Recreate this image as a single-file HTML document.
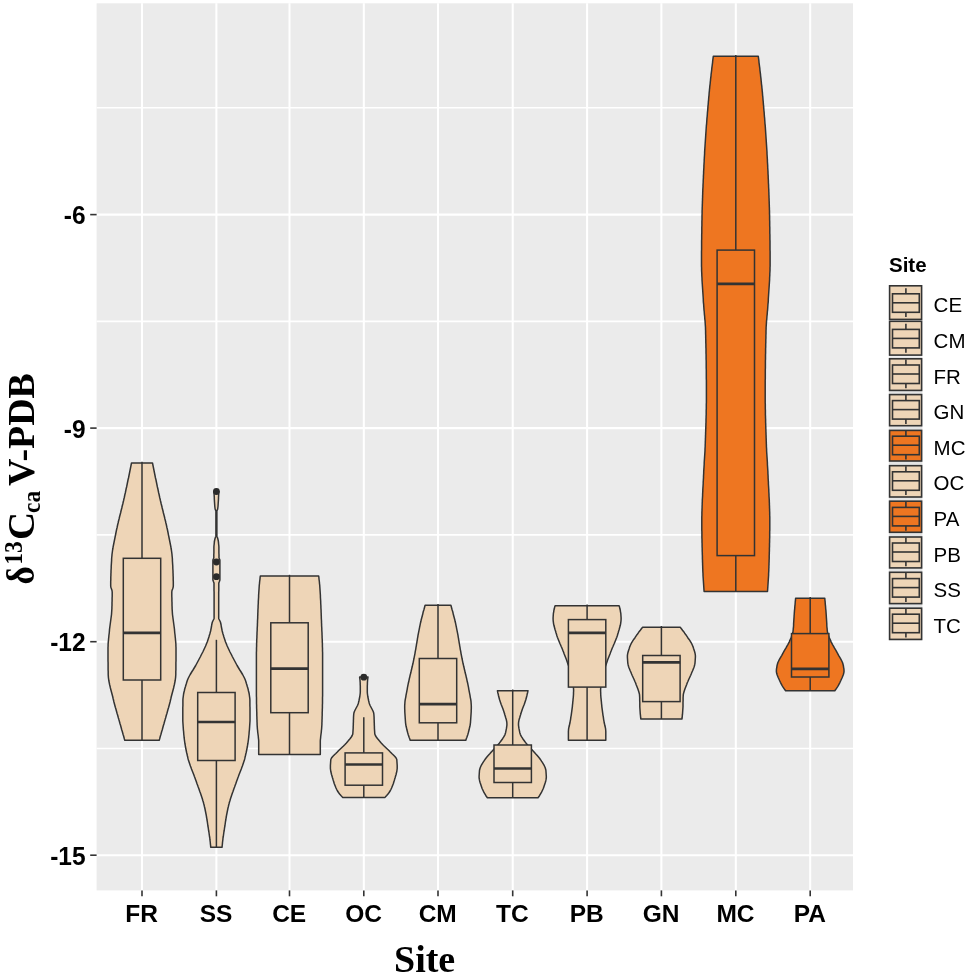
<!DOCTYPE html>
<html lang="en"><head><meta charset="utf-8"><title>Site violin plot</title>
<style>
html,body{margin:0;padding:0;background:#fff;}
body{width:968px;height:976px;overflow:hidden;}
svg{display:block;}
.tick{font-family:"Liberation Sans", Arial, sans-serif;font-weight:bold;font-size:24.5px;fill:#000;}
.leg{font-family:"Liberation Sans", Arial, sans-serif;font-size:20.5px;fill:#000;}
.legt{font-family:"Liberation Sans", Arial, sans-serif;font-weight:bold;font-size:20.5px;fill:#000;}
.ttl{font-family:"Liberation Serif", "Times New Roman", serif;font-weight:bold;fill:#000;}
</style></head><body>
<svg width="968" height="976" viewBox="0 0 968 976">
<rect x="0" y="0" width="968" height="976" fill="#ffffff"/>
<rect x="96.6" y="3.3" width="756.4" height="887.1" fill="#EBEBEB"/>

<g stroke="#ffffff" fill="none">
<line x1="96.6" x2="853.0" y1="107.8" y2="107.8" stroke-width="1.6"/>
<line x1="96.6" x2="853.0" y1="321.4" y2="321.4" stroke-width="1.6"/>
<line x1="96.6" x2="853.0" y1="534.9" y2="534.9" stroke-width="1.6"/>
<line x1="96.6" x2="853.0" y1="748.5" y2="748.5" stroke-width="1.6"/>
<line x1="96.6" x2="853.0" y1="214.6" y2="214.6" stroke-width="2.05"/>
<line x1="96.6" x2="853.0" y1="428.1" y2="428.1" stroke-width="2.05"/>
<line x1="96.6" x2="853.0" y1="641.7" y2="641.7" stroke-width="2.05"/>
<line x1="96.6" x2="853.0" y1="855.2" y2="855.2" stroke-width="2.05"/>
<line x1="142.0" x2="142.0" y1="3.3" y2="890.4" stroke-width="2.05"/>
<line x1="216.4" x2="216.4" y1="3.3" y2="890.4" stroke-width="2.05"/>
<line x1="289.5" x2="289.5" y1="3.3" y2="890.4" stroke-width="2.05"/>
<line x1="363.8" x2="363.8" y1="3.3" y2="890.4" stroke-width="2.05"/>
<line x1="438.0" x2="438.0" y1="3.3" y2="890.4" stroke-width="2.05"/>
<line x1="512.7" x2="512.7" y1="3.3" y2="890.4" stroke-width="2.05"/>
<line x1="587.1" x2="587.1" y1="3.3" y2="890.4" stroke-width="2.05"/>
<line x1="661.4" x2="661.4" y1="3.3" y2="890.4" stroke-width="2.05"/>
<line x1="735.8" x2="735.8" y1="3.3" y2="890.4" stroke-width="2.05"/>
<line x1="810.2" x2="810.2" y1="3.3" y2="890.4" stroke-width="2.05"/>
</g>
<g stroke="#333333" stroke-width="1.5" stroke-linejoin="round">
<path d="M131.5,463.0 L131.2,464.5 L130.9,466.0 L130.6,467.5 L130.3,469.0 L130.0,470.5 L129.7,472.0 L129.4,473.5 L129.1,475.0 L128.8,476.5 L128.5,478.0 L128.1,479.5 L127.8,481.0 L127.5,482.5 L127.2,484.0 L126.9,485.5 L126.6,487.0 L126.2,488.5 L125.9,490.0 L125.6,491.5 L125.3,493.0 L124.9,494.5 L124.6,496.0 L124.3,497.5 L123.9,499.0 L123.6,500.5 L123.2,502.0 L122.9,503.5 L122.5,505.0 L122.1,506.5 L121.8,508.0 L121.4,509.5 L121.0,511.0 L120.7,512.5 L120.3,514.0 L119.9,515.5 L119.5,517.0 L119.2,518.5 L118.8,520.0 L118.4,521.5 L118.1,523.0 L117.7,524.5 L117.4,526.0 L117.1,527.5 L116.7,529.0 L116.4,530.5 L116.1,532.0 L115.8,533.5 L115.5,535.0 L115.2,536.5 L114.9,538.0 L114.6,539.5 L114.3,541.0 L114.0,542.5 L113.7,544.0 L113.4,545.5 L113.1,547.0 L112.9,548.5 L112.6,550.0 L112.4,551.5 L112.2,553.0 L112.0,554.5 L111.9,556.0 L111.7,557.5 L111.7,558.0 L111.6,559.0 L111.6,560.5 L111.5,562.0 L111.4,563.5 L111.3,565.0 L111.2,566.5 L111.2,568.0 L111.1,569.5 L111.0,571.0 L111.0,572.5 L110.9,574.0 L110.9,575.5 L110.8,577.0 L110.8,578.5 L110.8,580.0 L110.7,581.5 L110.7,583.0 L110.7,584.5 L110.7,586.0 L110.9,587.5 L111.5,589.0 L112.0,590.5 L112.2,592.0 L112.2,593.5 L112.2,595.0 L112.2,596.5 L112.1,598.0 L112.1,599.5 L112.1,601.0 L112.0,602.5 L112.0,604.0 L112.0,605.5 L111.9,607.0 L111.9,608.5 L111.8,610.0 L111.7,611.5 L111.6,613.0 L111.5,614.5 L111.3,616.0 L111.1,617.5 L110.9,619.0 L110.7,620.5 L110.5,622.0 L110.3,623.5 L110.1,625.0 L109.9,626.5 L109.7,628.0 L109.5,629.5 L109.5,630.0 L109.4,631.0 L109.3,632.5 L109.1,634.0 L108.9,635.5 L108.8,637.0 L108.6,638.5 L108.5,640.0 L108.3,641.5 L108.2,643.0 L108.1,644.5 L108.1,646.0 L108.0,647.5 L108.0,649.0 L108.0,650.5 L108.0,652.0 L108.0,653.5 L108.0,655.0 L108.0,656.5 L108.0,658.0 L108.0,659.5 L108.0,661.0 L108.1,662.5 L108.1,664.0 L108.1,665.5 L108.1,667.0 L108.1,668.5 L108.1,670.0 L108.2,671.5 L108.2,673.0 L108.2,674.0 L108.2,674.5 L108.3,676.0 L108.4,677.5 L108.6,679.0 L108.8,680.5 L109.1,682.0 L109.4,683.5 L109.7,685.0 L110.1,686.5 L110.4,688.0 L110.8,689.5 L111.2,691.0 L111.6,692.5 L112.0,694.0 L112.4,695.5 L112.8,697.0 L113.0,698.0 L113.1,698.5 L113.5,700.0 L113.8,701.5 L114.2,703.0 L114.6,704.5 L115.0,706.0 L115.4,707.5 L115.9,709.0 L116.3,710.5 L116.7,712.0 L117.1,713.5 L117.6,715.0 L118.0,716.5 L118.4,718.0 L118.9,719.5 L119.0,720.0 L119.3,721.0 L119.7,722.5 L120.1,724.0 L120.6,725.5 L121.0,727.0 L121.4,728.5 L121.8,730.0 L122.3,731.5 L122.7,733.0 L123.1,734.5 L123.6,736.0 L124.0,737.5 L124.4,739.0 L124.8,740.2 L159.2,740.2 L159.6,739.0 L160.0,737.5 L160.4,736.0 L160.9,734.5 L161.3,733.0 L161.7,731.5 L162.2,730.0 L162.6,728.5 L163.0,727.0 L163.4,725.5 L163.9,724.0 L164.3,722.5 L164.7,721.0 L165.0,720.0 L165.1,719.5 L165.6,718.0 L166.0,716.5 L166.4,715.0 L166.9,713.5 L167.3,712.0 L167.7,710.5 L168.1,709.0 L168.6,707.5 L169.0,706.0 L169.4,704.5 L169.8,703.0 L170.2,701.5 L170.5,700.0 L170.9,698.5 L171.0,698.0 L171.2,697.0 L171.6,695.5 L172.0,694.0 L172.4,692.5 L172.8,691.0 L173.2,689.5 L173.6,688.0 L173.9,686.5 L174.3,685.0 L174.6,683.5 L174.9,682.0 L175.2,680.5 L175.4,679.0 L175.6,677.5 L175.7,676.0 L175.8,674.5 L175.8,674.0 L175.8,673.0 L175.8,671.5 L175.9,670.0 L175.9,668.5 L175.9,667.0 L175.9,665.5 L175.9,664.0 L175.9,662.5 L176.0,661.0 L176.0,659.5 L176.0,658.0 L176.0,656.5 L176.0,655.0 L176.0,653.5 L176.0,652.0 L176.0,650.5 L176.0,649.0 L176.0,647.5 L175.9,646.0 L175.9,644.5 L175.8,643.0 L175.7,641.5 L175.5,640.0 L175.4,638.5 L175.2,637.0 L175.1,635.5 L174.9,634.0 L174.7,632.5 L174.6,631.0 L174.5,630.0 L174.5,629.5 L174.3,628.0 L174.1,626.5 L173.9,625.0 L173.7,623.5 L173.5,622.0 L173.3,620.5 L173.1,619.0 L172.9,617.5 L172.7,616.0 L172.5,614.5 L172.4,613.0 L172.3,611.5 L172.2,610.0 L172.1,608.5 L172.1,607.0 L172.0,605.5 L172.0,604.0 L172.0,602.5 L171.9,601.0 L171.9,599.5 L171.9,598.0 L171.8,596.5 L171.8,595.0 L171.8,593.5 L171.8,592.0 L172.0,590.5 L172.6,589.0 L173.1,587.5 L173.3,586.0 L173.3,584.5 L173.3,583.0 L173.3,581.5 L173.2,580.0 L173.2,578.5 L173.2,577.0 L173.1,575.5 L173.1,574.0 L173.0,572.5 L173.0,571.0 L172.9,569.5 L172.8,568.0 L172.8,566.5 L172.7,565.0 L172.6,563.5 L172.5,562.0 L172.4,560.5 L172.4,559.0 L172.3,558.0 L172.3,557.5 L172.1,556.0 L172.0,554.5 L171.8,553.0 L171.6,551.5 L171.4,550.0 L171.1,548.5 L170.9,547.0 L170.6,545.5 L170.3,544.0 L170.0,542.5 L169.7,541.0 L169.4,539.5 L169.1,538.0 L168.8,536.5 L168.5,535.0 L168.2,533.5 L167.9,532.0 L167.6,530.5 L167.3,529.0 L166.9,527.5 L166.6,526.0 L166.3,524.5 L165.9,523.0 L165.6,521.5 L165.2,520.0 L164.8,518.5 L164.5,517.0 L164.1,515.5 L163.7,514.0 L163.3,512.5 L163.0,511.0 L162.6,509.5 L162.2,508.0 L161.9,506.5 L161.5,505.0 L161.1,503.5 L160.8,502.0 L160.4,500.5 L160.1,499.0 L159.7,497.5 L159.4,496.0 L159.1,494.5 L158.7,493.0 L158.4,491.5 L158.1,490.0 L157.8,488.5 L157.4,487.0 L157.1,485.5 L156.8,484.0 L156.5,482.5 L156.2,481.0 L155.9,479.5 L155.5,478.0 L155.2,476.5 L154.9,475.0 L154.6,473.5 L154.3,472.0 L154.0,470.5 L153.7,469.0 L153.4,467.5 L153.1,466.0 L152.8,464.5 L152.5,463.0Z" fill="#EED5B7"/>
<path d="M214.0,491.5 L214.1,493.0 L214.1,494.5 L214.2,496.0 L214.3,497.5 L214.3,499.0 L214.4,500.0 L214.4,500.5 L214.5,502.0 L214.6,503.5 L214.7,505.0 L214.8,506.5 L215.0,508.0 L215.1,509.0 L215.3,509.5 L215.9,511.0 L215.9,512.5 L215.9,514.0 L215.9,515.5 L215.9,517.0 L215.9,518.5 L215.9,520.0 L215.9,521.5 L215.9,523.0 L215.9,524.5 L215.9,526.0 L215.9,527.5 L215.9,529.0 L215.9,530.5 L215.9,532.0 L215.9,533.5 L215.9,535.0 L215.9,536.0 L215.8,536.5 L215.2,538.0 L214.8,539.5 L214.5,541.0 L214.4,542.0 L214.3,542.5 L214.2,544.0 L214.0,545.5 L213.9,547.0 L213.9,548.0 L213.9,548.5 L213.9,550.0 L213.9,551.5 L213.9,553.0 L213.8,554.5 L213.8,556.0 L213.8,557.5 L213.8,558.0 L213.3,559.0 L212.9,560.0 L212.9,560.5 L212.9,562.0 L212.9,563.5 L212.9,565.0 L212.9,566.5 L212.9,568.0 L212.9,569.5 L212.9,571.0 L212.9,572.5 L212.9,574.0 L212.9,575.5 L212.9,577.0 L212.9,578.5 L212.9,580.0 L213.4,581.5 L214.0,583.0 L214.0,584.5 L214.0,586.0 L214.0,587.5 L214.0,589.0 L214.0,590.5 L214.1,592.0 L214.1,593.5 L214.1,595.0 L214.1,596.5 L214.1,598.0 L214.1,599.5 L214.1,601.0 L214.1,602.5 L214.1,604.0 L214.1,605.5 L214.1,607.0 L214.1,608.5 L214.1,610.0 L214.1,611.5 L214.1,613.0 L214.1,614.5 L214.1,616.0 L214.1,617.5 L214.1,618.0 L213.9,619.0 L213.1,620.5 L212.4,622.0 L212.0,623.5 L211.7,625.0 L211.5,626.5 L211.2,628.0 L210.9,629.5 L210.8,630.0 L210.6,631.0 L210.2,632.5 L209.8,634.0 L209.3,635.5 L208.9,637.0 L208.4,638.5 L207.9,640.0 L207.4,641.5 L207.2,642.0 L206.8,643.0 L206.2,644.5 L205.6,646.0 L204.9,647.5 L204.2,649.0 L203.5,650.5 L202.8,652.0 L202.0,653.5 L201.2,655.0 L200.5,656.5 L199.7,658.0 L198.9,659.5 L198.1,661.0 L197.3,662.5 L196.5,664.0 L195.7,665.5 L194.8,667.0 L193.9,668.5 L193.0,670.0 L192.0,671.5 L191.1,673.0 L190.2,674.5 L189.4,676.0 L188.6,677.5 L187.9,679.0 L187.3,680.5 L187.0,681.4 L186.8,682.0 L186.4,683.5 L185.9,685.0 L185.5,686.5 L185.0,688.0 L184.6,689.5 L184.3,691.0 L183.9,692.5 L183.6,694.0 L183.4,695.5 L183.2,697.0 L183.0,698.5 L182.9,700.0 L182.9,701.0 L182.9,701.5 L182.9,703.0 L182.9,704.5 L182.9,706.0 L182.8,707.5 L182.8,709.0 L182.8,710.5 L182.8,712.0 L182.8,713.5 L182.8,715.0 L182.8,716.5 L182.8,718.0 L182.8,719.5 L182.8,721.0 L182.9,722.5 L183.0,724.0 L183.1,725.5 L183.2,727.0 L183.3,728.5 L183.4,730.0 L183.6,731.5 L183.7,733.0 L183.8,734.5 L184.0,736.0 L184.1,737.5 L184.2,738.0 L184.3,739.0 L184.5,740.5 L184.7,742.0 L184.9,743.5 L185.2,745.0 L185.4,746.5 L185.7,748.0 L186.0,749.5 L186.3,751.0 L186.6,752.5 L187.0,754.0 L187.3,755.5 L187.7,757.0 L187.8,757.6 L188.0,758.5 L188.4,760.0 L188.9,761.5 L189.4,763.0 L189.9,764.5 L190.4,766.0 L191.0,767.5 L191.5,769.0 L192.1,770.5 L192.7,772.0 L193.3,773.5 L193.9,775.0 L194.4,776.5 L195.0,778.0 L195.5,779.5 L195.6,779.7 L196.1,781.0 L196.6,782.5 L197.1,784.0 L197.7,785.5 L198.2,787.0 L198.8,788.5 L199.3,790.0 L199.8,791.5 L200.4,793.0 L200.9,794.5 L201.4,796.0 L201.9,797.5 L202.4,799.0 L202.8,800.5 L203.3,802.0 L203.7,803.5 L203.8,804.0 L204.1,805.0 L204.4,806.5 L204.8,808.0 L205.1,809.5 L205.4,811.0 L205.7,812.5 L205.8,813.0 L206.0,814.0 L206.3,815.5 L206.5,817.0 L206.8,818.5 L207.0,820.0 L207.3,821.5 L207.5,823.0 L207.7,824.5 L207.9,826.0 L208.2,827.5 L208.4,829.0 L208.6,830.5 L208.9,832.0 L209.1,833.5 L209.3,835.0 L209.5,836.5 L209.8,838.0 L209.9,839.5 L210.0,840.0 L210.1,841.0 L210.3,842.5 L210.4,844.0 L210.6,845.5 L210.7,847.0 L210.7,847.3 L222.1,847.3 L222.1,847.0 L222.2,845.5 L222.4,844.0 L222.5,842.5 L222.7,841.0 L222.8,840.0 L222.9,839.5 L223.0,838.0 L223.3,836.5 L223.5,835.0 L223.7,833.5 L223.9,832.0 L224.2,830.5 L224.4,829.0 L224.6,827.5 L224.9,826.0 L225.1,824.5 L225.3,823.0 L225.5,821.5 L225.8,820.0 L226.0,818.5 L226.3,817.0 L226.5,815.5 L226.8,814.0 L227.0,813.0 L227.1,812.5 L227.4,811.0 L227.7,809.5 L228.0,808.0 L228.4,806.5 L228.7,805.0 L229.0,804.0 L229.1,803.5 L229.5,802.0 L230.0,800.5 L230.4,799.0 L230.9,797.5 L231.4,796.0 L231.9,794.5 L232.4,793.0 L233.0,791.5 L233.5,790.0 L234.0,788.5 L234.6,787.0 L235.1,785.5 L235.7,784.0 L236.2,782.5 L236.7,781.0 L237.2,779.7 L237.3,779.5 L237.8,778.0 L238.4,776.5 L238.9,775.0 L239.5,773.5 L240.1,772.0 L240.7,770.5 L241.3,769.0 L241.8,767.5 L242.4,766.0 L242.9,764.5 L243.4,763.0 L243.9,761.5 L244.4,760.0 L244.8,758.5 L245.0,757.6 L245.1,757.0 L245.5,755.5 L245.8,754.0 L246.2,752.5 L246.5,751.0 L246.8,749.5 L247.1,748.0 L247.4,746.5 L247.6,745.0 L247.9,743.5 L248.1,742.0 L248.3,740.5 L248.5,739.0 L248.6,738.0 L248.7,737.5 L248.8,736.0 L249.0,734.5 L249.1,733.0 L249.2,731.5 L249.4,730.0 L249.5,728.5 L249.6,727.0 L249.7,725.5 L249.8,724.0 L249.9,722.5 L250.0,721.0 L250.0,719.5 L250.0,718.0 L250.0,716.5 L250.0,715.0 L250.0,713.5 L250.0,712.0 L250.0,710.5 L250.0,709.0 L250.0,707.5 L249.9,706.0 L249.9,704.5 L249.9,703.0 L249.9,701.5 L249.9,701.0 L249.9,700.0 L249.8,698.5 L249.6,697.0 L249.4,695.5 L249.2,694.0 L248.9,692.5 L248.5,691.0 L248.2,689.5 L247.8,688.0 L247.3,686.5 L246.9,685.0 L246.4,683.5 L246.0,682.0 L245.8,681.4 L245.5,680.5 L244.9,679.0 L244.2,677.5 L243.4,676.0 L242.6,674.5 L241.7,673.0 L240.8,671.5 L239.8,670.0 L238.9,668.5 L238.0,667.0 L237.1,665.5 L236.3,664.0 L235.5,662.5 L234.7,661.0 L233.9,659.5 L233.1,658.0 L232.3,656.5 L231.6,655.0 L230.8,653.5 L230.0,652.0 L229.3,650.5 L228.6,649.0 L227.9,647.5 L227.2,646.0 L226.6,644.5 L226.0,643.0 L225.6,642.0 L225.4,641.5 L224.9,640.0 L224.4,638.5 L223.9,637.0 L223.5,635.5 L223.0,634.0 L222.6,632.5 L222.2,631.0 L222.0,630.0 L221.9,629.5 L221.6,628.0 L221.3,626.5 L221.1,625.0 L220.8,623.5 L220.4,622.0 L219.7,620.5 L218.9,619.0 L218.7,618.0 L218.7,617.5 L218.7,616.0 L218.7,614.5 L218.7,613.0 L218.7,611.5 L218.7,610.0 L218.7,608.5 L218.7,607.0 L218.7,605.5 L218.7,604.0 L218.7,602.5 L218.7,601.0 L218.7,599.5 L218.7,598.0 L218.7,596.5 L218.7,595.0 L218.7,593.5 L218.7,592.0 L218.8,590.5 L218.8,589.0 L218.8,587.5 L218.8,586.0 L218.8,584.5 L218.8,583.0 L219.4,581.5 L219.9,580.0 L219.9,578.5 L219.9,577.0 L219.9,575.5 L219.9,574.0 L219.9,572.5 L219.9,571.0 L219.9,569.5 L219.9,568.0 L219.9,566.5 L219.9,565.0 L219.9,563.5 L219.9,562.0 L219.9,560.5 L219.9,560.0 L219.5,559.0 L219.0,558.0 L219.0,557.5 L219.0,556.0 L219.0,554.5 L218.9,553.0 L218.9,551.5 L218.9,550.0 L218.9,548.5 L218.9,548.0 L218.9,547.0 L218.8,545.5 L218.6,544.0 L218.5,542.5 L218.4,542.0 L218.3,541.0 L218.0,539.5 L217.6,538.0 L217.0,536.5 L216.9,536.0 L216.9,535.0 L216.9,533.5 L216.9,532.0 L216.9,530.5 L216.9,529.0 L216.9,527.5 L216.9,526.0 L216.9,524.5 L216.9,523.0 L216.9,521.5 L216.9,520.0 L216.9,518.5 L216.9,517.0 L216.9,515.5 L216.9,514.0 L216.9,512.5 L216.9,511.0 L217.5,509.5 L217.7,509.0 L217.8,508.0 L218.0,506.5 L218.1,505.0 L218.2,503.5 L218.3,502.0 L218.4,500.5 L218.4,500.0 L218.5,499.0 L218.5,497.5 L218.6,496.0 L218.7,494.5 L218.7,493.0 L218.8,491.5Z" fill="#EED5B7"/>
<path d="M260.3,576.0 L260.1,577.5 L260.0,579.0 L259.8,580.5 L259.6,582.0 L259.5,583.5 L259.3,585.0 L259.2,586.5 L259.1,588.0 L259.0,589.5 L258.9,591.0 L258.8,592.5 L258.7,594.0 L258.6,595.5 L258.6,597.0 L258.5,598.5 L258.4,600.0 L258.3,601.5 L258.3,603.0 L258.2,604.5 L258.1,606.0 L258.1,607.5 L258.0,609.0 L257.9,610.5 L257.9,612.0 L257.8,613.5 L257.8,615.0 L257.7,616.5 L257.7,618.0 L257.6,619.5 L257.5,621.0 L257.5,622.0 L257.5,622.5 L257.4,624.0 L257.4,625.5 L257.3,627.0 L257.2,628.5 L257.2,630.0 L257.1,631.5 L257.0,633.0 L257.0,634.5 L256.9,636.0 L256.9,637.5 L256.8,639.0 L256.7,640.5 L256.7,642.0 L256.6,643.5 L256.6,645.0 L256.6,646.5 L256.5,648.0 L256.5,649.5 L256.5,651.0 L256.4,652.5 L256.4,654.0 L256.4,655.5 L256.4,657.0 L256.4,658.5 L256.4,660.0 L256.4,661.5 L256.4,663.0 L256.4,664.5 L256.4,666.0 L256.4,667.5 L256.4,669.0 L256.4,670.5 L256.4,672.0 L256.4,673.5 L256.4,675.0 L256.4,676.5 L256.4,678.0 L256.4,679.5 L256.4,681.0 L256.4,682.5 L256.4,684.0 L256.4,685.5 L256.4,687.0 L256.4,688.5 L256.4,689.0 L256.4,690.0 L256.4,691.5 L256.4,693.0 L256.4,694.5 L256.4,696.0 L256.5,697.5 L256.5,699.0 L256.5,700.5 L256.5,702.0 L256.5,703.5 L256.6,705.0 L256.6,706.5 L256.6,708.0 L256.7,709.5 L256.7,711.0 L256.8,712.5 L256.8,714.0 L256.8,715.5 L256.9,717.0 L256.9,718.5 L257.0,720.0 L257.0,721.5 L257.1,723.0 L257.1,724.5 L257.2,726.0 L257.3,727.5 L257.4,729.0 L257.6,730.5 L257.7,732.0 L257.9,733.5 L258.1,735.0 L258.3,736.5 L258.4,738.0 L258.6,739.5 L258.7,741.0 L258.7,742.5 L258.7,743.0 L258.7,744.0 L258.7,745.5 L258.7,747.0 L258.7,748.5 L258.7,750.0 L258.7,751.5 L258.7,753.0 L258.7,754.5 L258.7,754.6 L320.3,754.6 L320.3,754.5 L320.3,753.0 L320.3,751.5 L320.3,750.0 L320.3,748.5 L320.3,747.0 L320.3,745.5 L320.3,744.0 L320.3,743.0 L320.3,742.5 L320.3,741.0 L320.4,739.5 L320.6,738.0 L320.7,736.5 L320.9,735.0 L321.1,733.5 L321.3,732.0 L321.4,730.5 L321.6,729.0 L321.7,727.5 L321.8,726.0 L321.9,724.5 L321.9,723.0 L322.0,721.5 L322.0,720.0 L322.1,718.5 L322.1,717.0 L322.2,715.5 L322.2,714.0 L322.2,712.5 L322.3,711.0 L322.3,709.5 L322.4,708.0 L322.4,706.5 L322.4,705.0 L322.5,703.5 L322.5,702.0 L322.5,700.5 L322.5,699.0 L322.5,697.5 L322.6,696.0 L322.6,694.5 L322.6,693.0 L322.6,691.5 L322.6,690.0 L322.6,689.0 L322.6,688.5 L322.6,687.0 L322.6,685.5 L322.6,684.0 L322.6,682.5 L322.6,681.0 L322.6,679.5 L322.6,678.0 L322.6,676.5 L322.6,675.0 L322.6,673.5 L322.6,672.0 L322.6,670.5 L322.6,669.0 L322.6,667.5 L322.6,666.0 L322.6,664.5 L322.6,663.0 L322.6,661.5 L322.6,660.0 L322.6,658.5 L322.6,657.0 L322.6,655.5 L322.6,654.0 L322.6,652.5 L322.5,651.0 L322.5,649.5 L322.5,648.0 L322.4,646.5 L322.4,645.0 L322.4,643.5 L322.3,642.0 L322.3,640.5 L322.2,639.0 L322.1,637.5 L322.1,636.0 L322.0,634.5 L322.0,633.0 L321.9,631.5 L321.8,630.0 L321.8,628.5 L321.7,627.0 L321.6,625.5 L321.6,624.0 L321.5,622.5 L321.5,622.0 L321.5,621.0 L321.4,619.5 L321.3,618.0 L321.3,616.5 L321.2,615.0 L321.2,613.5 L321.1,612.0 L321.1,610.5 L321.0,609.0 L320.9,607.5 L320.9,606.0 L320.8,604.5 L320.7,603.0 L320.7,601.5 L320.6,600.0 L320.5,598.5 L320.4,597.0 L320.4,595.5 L320.3,594.0 L320.2,592.5 L320.1,591.0 L320.0,589.5 L319.9,588.0 L319.8,586.5 L319.7,585.0 L319.5,583.5 L319.4,582.0 L319.2,580.5 L319.0,579.0 L318.9,577.5 L318.7,576.0Z" fill="#EED5B7"/>
<path d="M359.6,677.0 L359.8,678.5 L360.0,680.0 L360.1,681.5 L360.2,683.0 L360.2,684.5 L360.3,686.0 L360.3,687.5 L360.3,689.0 L360.3,690.5 L360.3,690.7 L360.3,692.0 L360.2,693.5 L360.0,695.0 L359.8,696.5 L359.5,698.0 L359.2,699.5 L358.9,701.0 L358.5,702.5 L358.4,703.0 L358.1,704.0 L357.5,705.5 L356.7,707.0 L355.9,708.5 L355.1,710.0 L354.4,711.5 L353.9,713.0 L353.8,713.8 L353.7,714.5 L353.6,716.0 L353.5,717.5 L353.5,719.0 L353.4,720.5 L353.4,722.0 L353.3,723.5 L353.3,725.0 L353.2,726.5 L353.2,728.0 L353.1,729.5 L353.0,731.0 L352.9,732.5 L352.8,733.7 L352.8,734.0 L352.2,735.5 L351.3,737.0 L350.2,738.5 L348.9,740.0 L347.8,741.4 L347.7,741.5 L346.4,743.0 L345.0,744.5 L343.5,746.0 L341.9,747.5 L340.3,749.0 L338.7,750.5 L337.3,752.0 L335.8,753.5 L334.2,755.0 L332.7,756.5 L331.5,758.0 L330.8,759.5 L330.8,759.8 L330.7,761.0 L330.6,762.5 L330.5,764.0 L330.4,765.5 L330.4,767.0 L330.4,767.5 L330.4,768.5 L330.6,770.0 L330.8,771.5 L331.2,773.0 L331.5,774.5 L332.0,776.0 L332.4,777.5 L332.9,779.0 L333.1,779.8 L333.3,780.5 L333.8,782.0 L334.2,783.5 L334.8,785.0 L335.4,786.5 L336.0,788.0 L336.7,789.5 L337.3,790.6 L337.5,791.0 L338.5,792.5 L339.6,794.0 L340.9,795.5 L342.3,797.0 L342.8,797.5 L384.8,797.5 L385.3,797.0 L386.7,795.5 L388.0,794.0 L389.1,792.5 L390.1,791.0 L390.3,790.6 L390.9,789.5 L391.6,788.0 L392.2,786.5 L392.8,785.0 L393.4,783.5 L393.8,782.0 L394.3,780.5 L394.5,779.8 L394.7,779.0 L395.2,777.5 L395.6,776.0 L396.1,774.5 L396.4,773.0 L396.8,771.5 L397.0,770.0 L397.2,768.5 L397.2,767.5 L397.2,767.0 L397.2,765.5 L397.1,764.0 L397.0,762.5 L396.9,761.0 L396.8,759.8 L396.8,759.5 L396.1,758.0 L394.9,756.5 L393.4,755.0 L391.8,753.5 L390.3,752.0 L388.9,750.5 L387.3,749.0 L385.7,747.5 L384.1,746.0 L382.6,744.5 L381.2,743.0 L379.9,741.5 L379.8,741.4 L378.7,740.0 L377.4,738.5 L376.3,737.0 L375.4,735.5 L374.8,734.0 L374.8,733.7 L374.7,732.5 L374.6,731.0 L374.5,729.5 L374.4,728.0 L374.4,726.5 L374.3,725.0 L374.3,723.5 L374.2,722.0 L374.2,720.5 L374.1,719.0 L374.1,717.5 L374.0,716.0 L373.9,714.5 L373.8,713.8 L373.7,713.0 L373.2,711.5 L372.5,710.0 L371.7,708.5 L370.9,707.0 L370.1,705.5 L369.5,704.0 L369.2,703.0 L369.1,702.5 L368.7,701.0 L368.4,699.5 L368.1,698.0 L367.8,696.5 L367.6,695.0 L367.4,693.5 L367.3,692.0 L367.3,690.7 L367.3,690.5 L367.3,689.0 L367.3,687.5 L367.3,686.0 L367.4,684.5 L367.4,683.0 L367.5,681.5 L367.6,680.0 L367.8,678.5 L368.0,677.0Z" fill="#EED5B7"/>
<path d="M425.1,605.3 L424.7,606.8 L424.3,608.3 L423.9,609.8 L423.4,611.3 L423.0,612.8 L422.7,614.3 L422.3,615.8 L421.9,617.3 L421.5,618.8 L421.1,620.3 L420.8,621.8 L420.4,623.3 L420.1,624.8 L419.8,626.3 L419.7,626.7 L419.5,627.8 L419.2,629.3 L418.9,630.8 L418.6,632.3 L418.3,633.8 L418.0,635.3 L417.8,636.8 L417.5,638.3 L417.3,639.8 L417.0,641.3 L416.8,642.8 L416.5,644.3 L416.3,645.8 L416.0,647.3 L415.8,648.8 L415.5,650.3 L415.2,651.8 L415.0,653.3 L414.7,654.8 L414.4,656.3 L414.1,657.8 L414.0,658.5 L413.8,659.3 L413.5,660.8 L413.2,662.3 L412.9,663.8 L412.5,665.3 L412.2,666.8 L411.8,668.3 L411.5,669.8 L411.1,671.3 L410.8,672.8 L410.4,674.3 L410.0,675.8 L409.7,677.3 L409.3,678.8 L409.0,680.3 L408.7,681.8 L408.3,683.3 L408.0,684.8 L407.7,686.3 L407.4,687.8 L407.2,689.3 L407.0,690.2 L406.9,690.8 L406.6,692.3 L406.3,693.8 L406.0,695.3 L405.8,696.8 L405.5,698.3 L405.2,699.8 L405.0,701.3 L404.9,702.8 L404.8,704.3 L404.7,705.8 L404.7,706.1 L404.7,707.3 L404.7,708.8 L404.8,710.3 L404.8,711.8 L404.9,713.3 L405.0,714.8 L405.1,716.3 L405.2,717.8 L405.3,719.3 L405.4,720.8 L405.5,722.0 L405.5,722.3 L405.7,723.8 L405.9,725.3 L406.2,726.8 L406.6,728.3 L406.9,729.8 L407.3,731.3 L407.7,732.8 L407.8,733.1 L408.1,734.3 L408.6,735.8 L409.1,737.3 L409.7,738.8 L410.2,740.2 L465.8,740.2 L466.3,738.8 L466.9,737.3 L467.4,735.8 L467.9,734.3 L468.2,733.1 L468.3,732.8 L468.7,731.3 L469.1,729.8 L469.4,728.3 L469.8,726.8 L470.1,725.3 L470.3,723.8 L470.5,722.3 L470.5,722.0 L470.6,720.8 L470.7,719.3 L470.8,717.8 L470.9,716.3 L471.0,714.8 L471.1,713.3 L471.2,711.8 L471.2,710.3 L471.3,708.8 L471.3,707.3 L471.3,706.1 L471.3,705.8 L471.2,704.3 L471.1,702.8 L471.0,701.3 L470.8,699.8 L470.5,698.3 L470.2,696.8 L470.0,695.3 L469.7,693.8 L469.4,692.3 L469.1,690.8 L469.0,690.2 L468.8,689.3 L468.6,687.8 L468.3,686.3 L468.0,684.8 L467.7,683.3 L467.3,681.8 L467.0,680.3 L466.7,678.8 L466.3,677.3 L466.0,675.8 L465.6,674.3 L465.2,672.8 L464.9,671.3 L464.5,669.8 L464.2,668.3 L463.8,666.8 L463.5,665.3 L463.1,663.8 L462.8,662.3 L462.5,660.8 L462.2,659.3 L462.0,658.5 L461.9,657.8 L461.6,656.3 L461.3,654.8 L461.0,653.3 L460.8,651.8 L460.5,650.3 L460.2,648.8 L460.0,647.3 L459.7,645.8 L459.5,644.3 L459.2,642.8 L459.0,641.3 L458.7,639.8 L458.5,638.3 L458.2,636.8 L458.0,635.3 L457.7,633.8 L457.4,632.3 L457.1,630.8 L456.8,629.3 L456.5,627.8 L456.3,626.7 L456.2,626.3 L455.9,624.8 L455.6,623.3 L455.2,621.8 L454.9,620.3 L454.5,618.8 L454.1,617.3 L453.7,615.8 L453.3,614.3 L453.0,612.8 L452.6,611.3 L452.1,609.8 L451.7,608.3 L451.3,606.8 L450.9,605.3Z" fill="#EED5B7"/>
<path d="M497.4,690.7 L497.7,692.2 L498.1,693.7 L498.4,695.2 L498.8,696.7 L499.2,698.2 L499.6,699.7 L499.7,700.0 L500.1,701.2 L500.6,702.7 L501.1,704.2 L501.7,705.7 L502.3,707.2 L502.9,708.7 L503.4,710.2 L503.9,711.7 L504.4,713.2 L504.4,713.3 L504.8,714.7 L505.3,716.2 L505.7,717.7 L506.2,719.2 L506.5,720.7 L506.8,722.2 L506.9,723.7 L506.9,724.0 L506.9,725.2 L506.7,726.7 L506.5,728.2 L506.2,729.7 L505.9,731.2 L505.6,732.7 L505.4,733.3 L505.1,734.2 L504.5,735.7 L503.6,737.2 L502.6,738.7 L501.5,740.2 L500.4,741.7 L499.7,742.6 L499.3,743.2 L498.0,744.7 L496.7,746.2 L495.3,747.7 L493.9,749.2 L492.5,750.7 L491.4,751.9 L491.1,752.2 L489.8,753.7 L488.4,755.2 L487.1,756.7 L485.9,758.2 L484.8,759.7 L484.7,759.9 L483.9,761.2 L482.9,762.7 L482.0,764.2 L481.1,765.7 L480.4,767.2 L479.9,768.7 L479.5,770.2 L479.5,770.5 L479.4,771.7 L479.3,773.2 L479.2,774.7 L479.1,776.2 L479.1,777.2 L479.1,777.7 L479.3,779.2 L479.6,780.7 L480.0,782.2 L480.5,783.7 L481.0,785.2 L481.4,786.5 L481.5,786.7 L482.0,788.2 L482.7,789.7 L483.4,791.2 L484.1,792.7 L484.4,793.2 L485.0,794.2 L485.9,795.7 L487.0,797.2 L487.4,797.8 L538.0,797.8 L538.4,797.2 L539.5,795.7 L540.4,794.2 L541.0,793.2 L541.3,792.7 L542.0,791.2 L542.7,789.7 L543.4,788.2 L543.9,786.7 L544.0,786.5 L544.4,785.2 L544.9,783.7 L545.4,782.2 L545.8,780.7 L546.1,779.2 L546.3,777.7 L546.3,777.2 L546.3,776.2 L546.2,774.7 L546.1,773.2 L546.0,771.7 L545.9,770.5 L545.9,770.2 L545.5,768.7 L545.0,767.2 L544.3,765.7 L543.4,764.2 L542.5,762.7 L541.5,761.2 L540.7,759.9 L540.6,759.7 L539.5,758.2 L538.3,756.7 L537.0,755.2 L535.6,753.7 L534.3,752.2 L534.0,751.9 L532.9,750.7 L531.5,749.2 L530.1,747.7 L528.7,746.2 L527.4,744.7 L526.1,743.2 L525.7,742.6 L525.0,741.7 L523.9,740.2 L522.8,738.7 L521.8,737.2 L520.9,735.7 L520.3,734.2 L520.0,733.3 L519.8,732.7 L519.5,731.2 L519.2,729.7 L518.9,728.2 L518.7,726.7 L518.5,725.2 L518.5,724.0 L518.5,723.7 L518.6,722.2 L518.9,720.7 L519.2,719.2 L519.7,717.7 L520.1,716.2 L520.6,714.7 L521.0,713.3 L521.0,713.2 L521.5,711.7 L522.0,710.2 L522.5,708.7 L523.1,707.2 L523.7,705.7 L524.3,704.2 L524.8,702.7 L525.3,701.2 L525.7,700.0 L525.8,699.7 L526.2,698.2 L526.6,696.7 L527.0,695.2 L527.3,693.7 L527.7,692.2 L528.0,690.7Z" fill="#EED5B7"/>
<path d="M555.1,605.8 L554.6,607.3 L554.3,608.8 L553.9,610.3 L553.7,611.8 L553.4,613.3 L553.3,614.8 L553.2,616.3 L553.1,617.8 L553.1,618.8 L553.1,619.3 L553.2,620.8 L553.4,622.3 L553.6,623.8 L553.9,625.3 L554.3,626.8 L554.7,628.3 L555.1,629.8 L555.6,631.3 L556.0,632.8 L556.5,634.3 L556.6,634.7 L556.9,635.8 L557.4,637.3 L558.0,638.8 L558.6,640.3 L559.2,641.8 L559.8,643.3 L560.5,644.8 L561.1,646.3 L561.8,647.8 L562.4,649.3 L562.9,650.6 L563.0,650.8 L563.6,652.3 L564.1,653.8 L564.7,655.3 L565.3,656.8 L565.9,658.3 L566.5,659.8 L567.0,661.3 L567.5,662.8 L567.7,663.3 L568.0,664.3 L568.6,665.8 L569.1,667.3 L569.6,668.8 L570.0,670.3 L570.5,671.8 L570.8,673.3 L571.1,674.4 L571.2,674.8 L571.5,676.3 L571.8,677.8 L572.2,679.3 L572.5,680.8 L572.8,682.3 L573.0,683.8 L573.3,685.3 L573.4,686.8 L573.5,688.3 L573.6,689.8 L573.6,690.2 L573.6,691.3 L573.5,692.8 L573.5,694.3 L573.4,695.8 L573.3,697.3 L573.1,698.8 L573.0,700.3 L572.8,701.8 L572.7,703.3 L572.5,704.8 L572.4,706.1 L572.4,706.3 L572.2,707.8 L572.0,709.3 L571.8,710.8 L571.6,712.3 L571.4,713.8 L571.2,715.3 L570.9,716.8 L570.7,718.3 L570.5,719.8 L570.2,721.3 L570.1,722.0 L570.0,722.8 L569.6,724.3 L569.3,725.8 L568.9,727.3 L568.6,728.8 L568.5,730.3 L568.4,731.5 L568.4,731.8 L568.4,733.3 L568.4,734.8 L568.4,736.3 L568.4,737.8 L568.4,739.3 L568.4,740.2 L605.8,740.2 L605.8,739.3 L605.8,737.8 L605.8,736.3 L605.8,734.8 L605.8,733.3 L605.8,731.8 L605.8,731.5 L605.7,730.3 L605.6,728.8 L605.3,727.3 L604.9,725.8 L604.6,724.3 L604.2,722.8 L604.1,722.0 L604.0,721.3 L603.7,719.8 L603.5,718.3 L603.3,716.8 L603.0,715.3 L602.8,713.8 L602.6,712.3 L602.4,710.8 L602.2,709.3 L602.0,707.8 L601.8,706.3 L601.8,706.1 L601.7,704.8 L601.5,703.3 L601.4,701.8 L601.2,700.3 L601.1,698.8 L600.9,697.3 L600.8,695.8 L600.7,694.3 L600.7,692.8 L600.6,691.3 L600.6,690.2 L600.6,689.8 L600.7,688.3 L600.8,686.8 L600.9,685.3 L601.2,683.8 L601.4,682.3 L601.7,680.8 L602.0,679.3 L602.4,677.8 L602.7,676.3 L603.0,674.8 L603.1,674.4 L603.4,673.3 L603.7,671.8 L604.2,670.3 L604.6,668.8 L605.1,667.3 L605.6,665.8 L606.2,664.3 L606.5,663.3 L606.7,662.8 L607.2,661.3 L607.7,659.8 L608.3,658.3 L608.9,656.8 L609.5,655.3 L610.1,653.8 L610.6,652.3 L611.2,650.8 L611.3,650.6 L611.8,649.3 L612.4,647.8 L613.1,646.3 L613.7,644.8 L614.4,643.3 L615.0,641.8 L615.6,640.3 L616.2,638.8 L616.8,637.3 L617.3,635.8 L617.6,634.7 L617.7,634.3 L618.2,632.8 L618.6,631.3 L619.1,629.8 L619.5,628.3 L619.9,626.8 L620.3,625.3 L620.6,623.8 L620.8,622.3 L621.0,620.8 L621.1,619.3 L621.1,618.8 L621.1,617.8 L621.0,616.3 L620.9,614.8 L620.8,613.3 L620.5,611.8 L620.3,610.3 L619.9,608.8 L619.6,607.3 L619.1,605.8Z" fill="#EED5B7"/>
<path d="M642.6,627.2 L641.4,628.7 L640.3,630.2 L639.1,631.7 L638.1,633.2 L637.1,634.6 L637.0,634.7 L636.0,636.2 L635.0,637.7 L633.9,639.2 L632.9,640.7 L632.0,642.2 L631.1,643.7 L630.4,645.2 L629.8,646.7 L629.7,646.9 L629.3,648.2 L628.8,649.7 L628.3,651.2 L627.9,652.7 L627.6,654.2 L627.4,655.7 L627.4,656.7 L627.4,657.2 L627.5,658.7 L627.6,660.2 L627.7,661.7 L627.8,662.9 L627.8,663.2 L628.1,664.7 L628.5,666.2 L629.0,667.7 L629.6,669.2 L630.2,670.7 L630.9,672.2 L631.5,673.7 L631.6,674.0 L632.1,675.2 L632.8,676.7 L633.5,678.2 L634.2,679.7 L634.8,681.2 L635.5,682.7 L635.9,683.8 L636.0,684.2 L636.6,685.7 L637.2,687.2 L637.8,688.7 L638.3,690.2 L638.8,691.7 L639.2,693.2 L639.5,694.7 L639.6,696.1 L639.6,696.2 L639.7,697.7 L639.7,699.2 L639.7,700.7 L639.8,702.2 L639.8,703.7 L639.8,705.2 L639.8,706.7 L639.9,708.2 L639.9,708.4 L640.0,709.7 L640.1,711.2 L640.2,712.7 L640.3,714.2 L640.5,715.7 L640.6,717.2 L640.8,718.7 L640.8,718.9 L682.0,718.9 L682.0,718.7 L682.2,717.2 L682.3,715.7 L682.5,714.2 L682.6,712.7 L682.7,711.2 L682.8,709.7 L682.9,708.4 L682.9,708.2 L683.0,706.7 L683.0,705.2 L683.0,703.7 L683.0,702.2 L683.1,700.7 L683.1,699.2 L683.1,697.7 L683.2,696.2 L683.2,696.1 L683.3,694.7 L683.6,693.2 L684.0,691.7 L684.5,690.2 L685.0,688.7 L685.6,687.2 L686.2,685.7 L686.8,684.2 L686.9,683.8 L687.3,682.7 L688.0,681.2 L688.6,679.7 L689.3,678.2 L690.0,676.7 L690.7,675.2 L691.2,674.0 L691.3,673.7 L691.9,672.2 L692.6,670.7 L693.2,669.2 L693.8,667.7 L694.3,666.2 L694.7,664.7 L695.0,663.2 L695.0,662.9 L695.1,661.7 L695.2,660.2 L695.3,658.7 L695.4,657.2 L695.4,656.7 L695.4,655.7 L695.2,654.2 L694.9,652.7 L694.5,651.2 L694.0,649.7 L693.5,648.2 L693.1,646.9 L693.0,646.7 L692.4,645.2 L691.7,643.7 L690.8,642.2 L689.9,640.7 L688.9,639.2 L687.8,637.7 L686.8,636.2 L685.8,634.7 L685.7,634.6 L684.7,633.2 L683.7,631.7 L682.5,630.2 L681.4,628.7 L680.2,627.2Z" fill="#EED5B7"/>
<path d="M713.3,56.3 L713.1,57.8 L712.9,59.3 L712.7,60.8 L712.6,62.3 L712.4,63.8 L712.2,65.3 L712.0,66.8 L711.8,68.3 L711.7,69.8 L711.5,71.3 L711.3,72.8 L711.1,74.3 L711.0,75.8 L710.8,77.3 L710.6,78.8 L710.5,80.3 L710.3,81.8 L710.2,83.3 L710.0,84.8 L709.8,86.3 L709.7,87.8 L709.5,89.3 L709.4,90.8 L709.2,92.3 L709.1,93.8 L709.0,95.3 L708.8,96.8 L708.7,98.3 L708.6,99.3 L708.6,99.8 L708.4,101.3 L708.3,102.8 L708.2,104.3 L708.0,105.8 L707.9,107.3 L707.8,108.8 L707.7,110.3 L707.5,111.8 L707.4,113.3 L707.3,114.8 L707.2,116.3 L707.0,117.8 L706.9,119.3 L706.8,120.8 L706.7,122.3 L706.6,123.8 L706.4,125.3 L706.3,126.8 L706.2,128.3 L706.1,129.8 L706.0,131.3 L705.9,132.8 L705.8,134.3 L705.7,135.8 L705.6,137.3 L705.5,138.8 L705.4,140.3 L705.3,141.8 L705.2,143.3 L705.1,144.8 L705.0,146.3 L704.9,147.8 L704.8,149.3 L704.7,150.8 L704.6,152.3 L704.6,153.8 L704.5,155.3 L704.4,156.8 L704.3,158.3 L704.3,158.7 L704.2,159.8 L704.2,161.3 L704.1,162.8 L704.0,164.3 L703.9,165.8 L703.9,167.3 L703.8,168.8 L703.7,170.3 L703.6,171.8 L703.6,173.3 L703.5,174.8 L703.4,176.3 L703.4,177.8 L703.3,179.3 L703.2,180.8 L703.2,182.3 L703.1,183.8 L703.0,185.3 L703.0,186.8 L702.9,188.3 L702.8,189.8 L702.8,191.3 L702.7,192.8 L702.7,194.3 L702.6,195.8 L702.6,197.3 L702.5,198.8 L702.5,200.3 L702.4,201.8 L702.4,203.3 L702.3,204.8 L702.3,206.3 L702.2,207.8 L702.2,209.3 L702.1,210.8 L702.1,212.3 L702.1,213.8 L702.0,215.3 L702.0,216.8 L702.0,218.0 L702.0,218.3 L702.0,219.8 L701.9,221.3 L701.9,222.8 L701.9,224.3 L701.9,225.8 L701.8,227.3 L701.8,228.8 L701.8,230.3 L701.8,231.8 L701.8,233.3 L701.7,234.8 L701.7,236.3 L701.7,237.8 L701.7,239.3 L701.6,240.8 L701.6,242.3 L701.6,243.8 L701.6,245.3 L701.6,246.8 L701.6,248.3 L701.6,249.8 L701.5,251.3 L701.5,252.8 L701.5,254.3 L701.5,255.8 L701.5,257.3 L701.5,258.8 L701.5,260.3 L701.5,261.8 L701.5,262.6 L701.5,263.3 L701.5,264.8 L701.5,266.3 L701.6,267.8 L701.6,269.3 L701.6,270.8 L701.7,272.3 L701.8,273.8 L701.8,275.3 L701.9,276.8 L702.0,278.3 L702.0,279.8 L702.1,281.3 L702.2,282.8 L702.3,284.3 L702.4,285.8 L702.5,287.3 L702.6,288.8 L702.7,290.3 L702.8,291.8 L702.9,293.3 L703.0,294.8 L703.1,296.3 L703.2,297.8 L703.3,299.3 L703.3,300.0 L703.3,300.8 L703.4,302.3 L703.6,303.8 L703.7,305.3 L703.8,306.8 L703.9,308.3 L704.0,309.8 L704.2,311.3 L704.3,312.8 L704.4,314.3 L704.6,315.8 L704.7,317.3 L704.8,318.8 L705.0,320.3 L705.1,321.8 L705.2,323.3 L705.3,324.8 L705.4,326.3 L705.5,327.8 L705.5,329.3 L705.6,330.8 L705.6,331.7 L705.6,332.3 L705.6,333.8 L705.7,335.3 L705.7,336.8 L705.7,338.3 L705.8,339.8 L705.8,341.3 L705.8,342.8 L705.9,344.3 L705.9,345.8 L705.9,347.3 L706.0,348.8 L706.0,350.3 L706.0,351.8 L706.0,353.3 L706.1,354.8 L706.1,356.3 L706.1,357.8 L706.1,359.3 L706.2,360.8 L706.2,362.3 L706.2,363.8 L706.2,365.3 L706.2,366.8 L706.2,368.3 L706.3,369.8 L706.3,371.3 L706.3,372.8 L706.3,374.3 L706.3,375.8 L706.3,377.3 L706.3,378.8 L706.4,380.3 L706.4,381.8 L706.4,383.3 L706.4,384.8 L706.4,386.3 L706.4,387.8 L706.4,389.3 L706.4,390.8 L706.4,392.3 L706.4,393.8 L706.4,395.0 L706.4,395.3 L706.4,396.8 L706.4,398.3 L706.4,399.8 L706.4,401.3 L706.4,402.8 L706.3,404.3 L706.3,405.8 L706.3,407.3 L706.3,408.8 L706.2,410.3 L706.2,411.8 L706.2,413.3 L706.2,414.8 L706.1,416.3 L706.1,417.8 L706.0,419.3 L706.0,420.8 L706.0,422.3 L705.9,423.8 L705.9,425.3 L705.8,426.8 L705.8,428.3 L705.7,429.8 L705.7,431.3 L705.6,432.8 L705.6,434.3 L705.5,435.8 L705.5,437.3 L705.4,438.8 L705.4,440.3 L705.3,441.8 L705.3,442.9 L705.3,443.3 L705.2,444.8 L705.2,446.3 L705.1,447.8 L705.0,449.3 L705.0,450.8 L704.9,452.3 L704.8,453.8 L704.7,455.3 L704.6,456.8 L704.5,458.3 L704.4,459.8 L704.3,461.3 L704.2,462.8 L704.2,464.3 L704.1,465.8 L704.0,467.3 L703.9,468.8 L703.8,470.3 L703.7,471.8 L703.7,473.3 L703.6,474.6 L703.6,474.8 L703.5,476.3 L703.5,477.8 L703.4,479.3 L703.3,480.8 L703.2,482.3 L703.2,483.8 L703.1,485.3 L703.0,486.8 L702.9,488.3 L702.8,489.8 L702.8,491.3 L702.7,492.8 L702.6,494.3 L702.6,495.8 L702.5,497.3 L702.4,498.8 L702.3,500.3 L702.3,501.8 L702.2,503.3 L702.2,504.8 L702.1,506.3 L702.1,507.8 L702.0,509.3 L702.0,510.8 L701.9,512.3 L701.9,513.8 L701.9,515.3 L701.8,516.8 L701.8,518.3 L701.8,519.8 L701.8,521.3 L701.8,522.0 L701.8,522.8 L701.8,524.3 L701.8,525.8 L701.8,527.3 L701.8,528.8 L701.8,530.3 L701.9,531.8 L701.9,533.3 L701.9,534.8 L701.9,536.3 L701.9,537.8 L702.0,539.3 L702.0,540.8 L702.0,542.3 L702.1,543.8 L702.1,545.3 L702.1,546.8 L702.2,548.3 L702.2,549.8 L702.2,551.3 L702.3,552.8 L702.3,554.3 L702.4,555.8 L702.4,557.3 L702.4,558.8 L702.5,560.3 L702.5,561.8 L702.6,563.3 L702.6,564.8 L702.7,566.3 L702.7,567.8 L702.8,569.3 L702.8,570.0 L702.8,570.8 L702.9,572.3 L703.0,573.8 L703.0,575.3 L703.1,576.8 L703.2,578.3 L703.3,579.8 L703.4,581.3 L703.5,582.8 L703.6,584.3 L703.7,585.8 L703.8,587.3 L703.9,588.8 L704.0,590.3 L704.1,591.4 L767.5,591.4 L767.6,590.3 L767.7,588.8 L767.8,587.3 L767.9,585.8 L768.0,584.3 L768.1,582.8 L768.2,581.3 L768.3,579.8 L768.4,578.3 L768.5,576.8 L768.6,575.3 L768.6,573.8 L768.7,572.3 L768.8,570.8 L768.8,570.0 L768.8,569.3 L768.9,567.8 L768.9,566.3 L769.0,564.8 L769.0,563.3 L769.1,561.8 L769.1,560.3 L769.2,558.8 L769.2,557.3 L769.2,555.8 L769.3,554.3 L769.3,552.8 L769.4,551.3 L769.4,549.8 L769.4,548.3 L769.5,546.8 L769.5,545.3 L769.5,543.8 L769.6,542.3 L769.6,540.8 L769.6,539.3 L769.7,537.8 L769.7,536.3 L769.7,534.8 L769.7,533.3 L769.7,531.8 L769.8,530.3 L769.8,528.8 L769.8,527.3 L769.8,525.8 L769.8,524.3 L769.8,522.8 L769.8,522.0 L769.8,521.3 L769.8,519.8 L769.8,518.3 L769.8,516.8 L769.7,515.3 L769.7,513.8 L769.7,512.3 L769.6,510.8 L769.6,509.3 L769.5,507.8 L769.5,506.3 L769.4,504.8 L769.4,503.3 L769.3,501.8 L769.3,500.3 L769.2,498.8 L769.1,497.3 L769.0,495.8 L769.0,494.3 L768.9,492.8 L768.8,491.3 L768.8,489.8 L768.7,488.3 L768.6,486.8 L768.5,485.3 L768.4,483.8 L768.4,482.3 L768.3,480.8 L768.2,479.3 L768.1,477.8 L768.1,476.3 L768.0,474.8 L768.0,474.6 L767.9,473.3 L767.9,471.8 L767.8,470.3 L767.7,468.8 L767.6,467.3 L767.5,465.8 L767.4,464.3 L767.4,462.8 L767.3,461.3 L767.2,459.8 L767.1,458.3 L767.0,456.8 L766.9,455.3 L766.8,453.8 L766.7,452.3 L766.6,450.8 L766.6,449.3 L766.5,447.8 L766.4,446.3 L766.4,444.8 L766.3,443.3 L766.3,442.9 L766.3,441.8 L766.2,440.3 L766.2,438.8 L766.1,437.3 L766.1,435.8 L766.0,434.3 L766.0,432.8 L765.9,431.3 L765.9,429.8 L765.8,428.3 L765.8,426.8 L765.7,425.3 L765.7,423.8 L765.6,422.3 L765.6,420.8 L765.6,419.3 L765.5,417.8 L765.5,416.3 L765.4,414.8 L765.4,413.3 L765.4,411.8 L765.4,410.3 L765.3,408.8 L765.3,407.3 L765.3,405.8 L765.3,404.3 L765.2,402.8 L765.2,401.3 L765.2,399.8 L765.2,398.3 L765.2,396.8 L765.2,395.3 L765.2,395.0 L765.2,393.8 L765.2,392.3 L765.2,390.8 L765.2,389.3 L765.2,387.8 L765.2,386.3 L765.2,384.8 L765.2,383.3 L765.2,381.8 L765.2,380.3 L765.3,378.8 L765.3,377.3 L765.3,375.8 L765.3,374.3 L765.3,372.8 L765.3,371.3 L765.3,369.8 L765.4,368.3 L765.4,366.8 L765.4,365.3 L765.4,363.8 L765.4,362.3 L765.4,360.8 L765.5,359.3 L765.5,357.8 L765.5,356.3 L765.5,354.8 L765.6,353.3 L765.6,351.8 L765.6,350.3 L765.6,348.8 L765.7,347.3 L765.7,345.8 L765.7,344.3 L765.8,342.8 L765.8,341.3 L765.8,339.8 L765.9,338.3 L765.9,336.8 L765.9,335.3 L766.0,333.8 L766.0,332.3 L766.0,331.7 L766.0,330.8 L766.1,329.3 L766.1,327.8 L766.2,326.3 L766.3,324.8 L766.4,323.3 L766.5,321.8 L766.6,320.3 L766.8,318.8 L766.9,317.3 L767.0,315.8 L767.2,314.3 L767.3,312.8 L767.4,311.3 L767.6,309.8 L767.7,308.3 L767.8,306.8 L767.9,305.3 L768.0,303.8 L768.2,302.3 L768.3,300.8 L768.3,300.0 L768.3,299.3 L768.4,297.8 L768.5,296.3 L768.6,294.8 L768.7,293.3 L768.8,291.8 L768.9,290.3 L769.0,288.8 L769.1,287.3 L769.2,285.8 L769.3,284.3 L769.4,282.8 L769.5,281.3 L769.6,279.8 L769.6,278.3 L769.7,276.8 L769.8,275.3 L769.8,273.8 L769.9,272.3 L770.0,270.8 L770.0,269.3 L770.0,267.8 L770.1,266.3 L770.1,264.8 L770.1,263.3 L770.1,262.6 L770.1,261.8 L770.1,260.3 L770.1,258.8 L770.1,257.3 L770.1,255.8 L770.1,254.3 L770.1,252.8 L770.1,251.3 L770.0,249.8 L770.0,248.3 L770.0,246.8 L770.0,245.3 L770.0,243.8 L770.0,242.3 L770.0,240.8 L769.9,239.3 L769.9,237.8 L769.9,236.3 L769.9,234.8 L769.8,233.3 L769.8,231.8 L769.8,230.3 L769.8,228.8 L769.8,227.3 L769.7,225.8 L769.7,224.3 L769.7,222.8 L769.7,221.3 L769.6,219.8 L769.6,218.3 L769.6,218.0 L769.6,216.8 L769.6,215.3 L769.5,213.8 L769.5,212.3 L769.5,210.8 L769.4,209.3 L769.4,207.8 L769.3,206.3 L769.3,204.8 L769.2,203.3 L769.2,201.8 L769.1,200.3 L769.1,198.8 L769.0,197.3 L769.0,195.8 L768.9,194.3 L768.9,192.8 L768.8,191.3 L768.8,189.8 L768.7,188.3 L768.6,186.8 L768.6,185.3 L768.5,183.8 L768.4,182.3 L768.4,180.8 L768.3,179.3 L768.2,177.8 L768.2,176.3 L768.1,174.8 L768.0,173.3 L768.0,171.8 L767.9,170.3 L767.8,168.8 L767.7,167.3 L767.7,165.8 L767.6,164.3 L767.5,162.8 L767.4,161.3 L767.4,159.8 L767.3,158.7 L767.3,158.3 L767.2,156.8 L767.1,155.3 L767.0,153.8 L767.0,152.3 L766.9,150.8 L766.8,149.3 L766.7,147.8 L766.6,146.3 L766.5,144.8 L766.4,143.3 L766.3,141.8 L766.2,140.3 L766.1,138.8 L766.0,137.3 L765.9,135.8 L765.8,134.3 L765.7,132.8 L765.6,131.3 L765.5,129.8 L765.4,128.3 L765.3,126.8 L765.2,125.3 L765.0,123.8 L764.9,122.3 L764.8,120.8 L764.7,119.3 L764.6,117.8 L764.4,116.3 L764.3,114.8 L764.2,113.3 L764.1,111.8 L763.9,110.3 L763.8,108.8 L763.7,107.3 L763.6,105.8 L763.4,104.3 L763.3,102.8 L763.2,101.3 L763.0,99.8 L763.0,99.3 L762.9,98.3 L762.8,96.8 L762.6,95.3 L762.5,93.8 L762.4,92.3 L762.2,90.8 L762.1,89.3 L761.9,87.8 L761.8,86.3 L761.6,84.8 L761.4,83.3 L761.3,81.8 L761.1,80.3 L761.0,78.8 L760.8,77.3 L760.6,75.8 L760.5,74.3 L760.3,72.8 L760.1,71.3 L759.9,69.8 L759.8,68.3 L759.6,66.8 L759.4,65.3 L759.2,63.8 L759.0,62.3 L758.9,60.8 L758.7,59.3 L758.5,57.8 L758.3,56.3Z" fill="#EE7621"/>
<path d="M795.6,598.3 L795.5,599.8 L795.3,601.3 L795.2,602.8 L795.1,604.3 L794.9,605.8 L794.8,607.3 L794.7,608.8 L794.5,610.3 L794.4,611.8 L794.3,613.3 L794.2,614.8 L794.1,615.8 L794.1,616.3 L794.0,617.8 L793.9,619.3 L793.8,620.8 L793.7,622.3 L793.6,623.8 L793.6,625.3 L793.5,626.8 L793.3,628.3 L793.2,629.8 L793.0,631.3 L793.0,631.7 L792.8,632.8 L792.4,634.3 L791.9,635.8 L791.3,637.3 L790.6,638.8 L789.9,640.3 L789.9,640.4 L789.3,641.8 L788.5,643.3 L787.7,644.8 L786.8,646.3 L786.0,647.8 L785.1,649.3 L784.2,650.8 L783.4,652.3 L783.2,652.7 L782.6,653.8 L781.8,655.3 L780.9,656.8 L780.0,658.3 L779.2,659.8 L778.5,661.3 L777.8,662.8 L777.4,664.3 L777.2,665.0 L777.0,665.8 L776.8,667.3 L776.5,668.8 L776.4,670.3 L776.4,671.0 L776.4,671.8 L776.7,673.3 L777.1,674.8 L777.7,676.3 L778.3,677.8 L779.0,679.3 L779.7,680.8 L779.8,681.0 L780.4,682.3 L781.2,683.8 L782.0,685.3 L782.9,686.8 L783.9,688.3 L784.9,689.8 L785.6,690.8 L834.8,690.8 L835.5,689.8 L836.5,688.3 L837.5,686.8 L838.4,685.3 L839.2,683.8 L840.0,682.3 L840.6,681.0 L840.7,680.8 L841.4,679.3 L842.1,677.8 L842.7,676.3 L843.3,674.8 L843.7,673.3 L844.0,671.8 L844.0,671.0 L844.0,670.3 L843.9,668.8 L843.6,667.3 L843.4,665.8 L843.2,665.0 L843.0,664.3 L842.6,662.8 L841.9,661.3 L841.2,659.8 L840.4,658.3 L839.5,656.8 L838.6,655.3 L837.8,653.8 L837.2,652.7 L837.0,652.3 L836.2,650.8 L835.3,649.3 L834.4,647.8 L833.6,646.3 L832.7,644.8 L831.9,643.3 L831.1,641.8 L830.5,640.4 L830.5,640.3 L829.8,638.8 L829.1,637.3 L828.5,635.8 L828.0,634.3 L827.6,632.8 L827.4,631.7 L827.4,631.3 L827.2,629.8 L827.1,628.3 L826.9,626.8 L826.8,625.3 L826.8,623.8 L826.7,622.3 L826.6,620.8 L826.5,619.3 L826.4,617.8 L826.3,616.3 L826.3,615.8 L826.2,614.8 L826.1,613.3 L826.0,611.8 L825.9,610.3 L825.7,608.8 L825.6,607.3 L825.5,605.8 L825.3,604.3 L825.2,602.8 L825.1,601.3 L824.9,599.8 L824.8,598.3Z" fill="#EE7621"/>
</g>
<g stroke="#333333" stroke-width="1.5" fill="#EED5B7">
<line x1="142.0" x2="142.0" y1="461.8" y2="558.3"/><line x1="142.0" x2="142.0" y1="680" y2="740.2"/>
<rect x="123.3" y="558.3" width="37.4" height="121.7"/>
<line x1="123.3" x2="160.7" y1="632.8" y2="632.8" stroke-width="2.7"/>
</g>
<g stroke="#333333" stroke-width="1.5" fill="#EED5B7">
<line x1="216.4" x2="216.4" y1="639.8" y2="692.5"/><line x1="216.4" x2="216.4" y1="760.5" y2="847.3"/>
<rect x="197.7" y="692.5" width="37.4" height="68.0"/>
<line x1="197.7" x2="235.1" y1="722" y2="722" stroke-width="2.7"/>
</g>
<circle cx="216.4" cy="491.5" r="3.4" fill="#2b2b2b"/>
<circle cx="216.4" cy="562" r="3.4" fill="#2b2b2b"/>
<circle cx="216.4" cy="576.7" r="3.4" fill="#2b2b2b"/>
<g stroke="#333333" stroke-width="1.5" fill="#EED5B7">
<line x1="289.5" x2="289.5" y1="574.8" y2="622.8"/><line x1="289.5" x2="289.5" y1="712.7" y2="754.6"/>
<rect x="270.8" y="622.8" width="37.4" height="89.9"/>
<line x1="270.8" x2="308.2" y1="668.6" y2="668.6" stroke-width="2.7"/>
</g>
<g stroke="#333333" stroke-width="1.5" fill="#EED5B7">
<line x1="363.8" x2="363.8" y1="717.1999999999999" y2="752.9"/><line x1="363.8" x2="363.8" y1="785.2" y2="797.5"/>
<rect x="345.1" y="752.9" width="37.4" height="32.3"/>
<line x1="345.1" x2="382.5" y1="764.5" y2="764.5" stroke-width="2.7"/>
</g>
<circle cx="363.8" cy="677.2" r="3.4" fill="#2b2b2b"/>
<g stroke="#333333" stroke-width="1.5" fill="#EED5B7">
<line x1="438.0" x2="438.0" y1="604.0999999999999" y2="658.5"/><line x1="438.0" x2="438.0" y1="722.8" y2="740.2"/>
<rect x="419.3" y="658.5" width="37.4" height="64.3"/>
<line x1="419.3" x2="456.7" y1="704.2" y2="704.2" stroke-width="2.7"/>
</g>
<g stroke="#333333" stroke-width="1.5" fill="#EED5B7">
<line x1="512.7" x2="512.7" y1="689.5" y2="745"/><line x1="512.7" x2="512.7" y1="782.5" y2="797.8"/>
<rect x="494.0" y="745" width="37.4" height="37.5"/>
<line x1="494.0" x2="531.4" y1="768.5" y2="768.5" stroke-width="2.7"/>
</g>
<g stroke="#333333" stroke-width="1.5" fill="#EED5B7">
<line x1="587.1" x2="587.1" y1="604.5999999999999" y2="619.6"/><line x1="587.1" x2="587.1" y1="687.1" y2="740.2"/>
<rect x="568.4" y="619.6" width="37.4" height="67.5"/>
<line x1="568.4" x2="605.8" y1="632.8" y2="632.8" stroke-width="2.7"/>
</g>
<g stroke="#333333" stroke-width="1.5" fill="#EED5B7">
<line x1="661.4" x2="661.4" y1="626.0" y2="655.5"/><line x1="661.4" x2="661.4" y1="701.6" y2="718.9"/>
<rect x="642.7" y="655.5" width="37.4" height="46.1"/>
<line x1="642.7" x2="680.1" y1="662.3" y2="662.3" stroke-width="2.7"/>
</g>
<g stroke="#333333" stroke-width="1.5" fill="#EE7621">
<line x1="735.8" x2="735.8" y1="55.099999999999994" y2="250.1"/><line x1="735.8" x2="735.8" y1="555.6" y2="591.4"/>
<rect x="717.1" y="250.1" width="37.4" height="305.5"/>
<line x1="717.1" x2="754.5" y1="283.9" y2="283.9" stroke-width="2.7"/>
</g>
<g stroke="#333333" stroke-width="1.5" fill="#EE7621">
<line x1="810.2" x2="810.2" y1="597.0999999999999" y2="633.6"/><line x1="810.2" x2="810.2" y1="677" y2="690.8"/>
<rect x="791.5" y="633.6" width="37.4" height="43.4"/>
<line x1="791.5" x2="828.9" y1="668.9" y2="668.9" stroke-width="2.7"/>
</g>
<g stroke="#333333" stroke-width="1.6">
<line x1="90.2" x2="96.6" y1="214.6" y2="214.6"/>
<line x1="90.2" x2="96.6" y1="428.1" y2="428.1"/>
<line x1="90.2" x2="96.6" y1="641.7" y2="641.7"/>
<line x1="90.2" x2="96.6" y1="855.2" y2="855.2"/>
<line x1="142.0" x2="142.0" y1="890.4" y2="896.3"/>
<line x1="216.4" x2="216.4" y1="890.4" y2="896.3"/>
<line x1="289.5" x2="289.5" y1="890.4" y2="896.3"/>
<line x1="363.8" x2="363.8" y1="890.4" y2="896.3"/>
<line x1="438.0" x2="438.0" y1="890.4" y2="896.3"/>
<line x1="512.7" x2="512.7" y1="890.4" y2="896.3"/>
<line x1="587.1" x2="587.1" y1="890.4" y2="896.3"/>
<line x1="661.4" x2="661.4" y1="890.4" y2="896.3"/>
<line x1="735.8" x2="735.8" y1="890.4" y2="896.3"/>
<line x1="810.2" x2="810.2" y1="890.4" y2="896.3"/>
</g>
<text class="tick" transform="translate(85.6,224.2) scale(1,1.05)" text-anchor="end">-6</text>
<text class="tick" transform="translate(85.6,437.7) scale(1,1.05)" text-anchor="end">-9</text>
<text class="tick" transform="translate(85.6,651.3) scale(1,1.05)" text-anchor="end">-12</text>
<text class="tick" transform="translate(85.6,864.8) scale(1,1.05)" text-anchor="end">-15</text>
<text class="tick" x="141.7" y="922" text-anchor="middle">FR</text>
<text class="tick" x="216.1" y="922" text-anchor="middle">SS</text>
<text class="tick" x="289.2" y="922" text-anchor="middle">CE</text>
<text class="tick" x="363.5" y="922" text-anchor="middle">OC</text>
<text class="tick" x="437.7" y="922" text-anchor="middle">CM</text>
<text class="tick" x="512.4" y="922" text-anchor="middle">TC</text>
<text class="tick" x="586.8" y="922" text-anchor="middle">PB</text>
<text class="tick" x="661.1" y="922" text-anchor="middle">GN</text>
<text class="tick" x="735.5" y="922" text-anchor="middle">MC</text>
<text class="tick" x="809.9" y="922" text-anchor="middle">PA</text>
<text class="ttl" x="394" y="971.5" font-size="38">Site</text>
<g transform="translate(33.7,584.5) rotate(-90)" class="ttl"><text x="0" y="0" font-size="40" textLength="18.2" lengthAdjust="spacingAndGlyphs">δ</text><text x="19.8" y="-12.0" font-size="25" textLength="23.6" lengthAdjust="spacingAndGlyphs">13</text><text x="44.4" y="0" font-size="38" textLength="28.2" lengthAdjust="spacingAndGlyphs">C</text><text x="71.6" y="6.6" font-size="26" textLength="22" lengthAdjust="spacingAndGlyphs">ca</text><text x="98.4" y="0" font-size="38" textLength="113" lengthAdjust="spacingAndGlyphs">V-PDB</text></g>
<text class="legt" x="889" y="271.7">Site</text>
<rect x="888.8" y="356.5" width="33.6" height="284" fill="#E4E4E4"/>
<g stroke="#333333" stroke-width="1.6" fill="#EED5B7">
<rect x="889.6" y="285.8" width="32.0" height="33.6"/>
<line x1="905.9" x2="905.9" y1="288.2" y2="293.9"/><line x1="905.9" x2="905.9" y1="312.1" y2="317.1"/>
<rect x="892.5" y="293.8" width="26.8" height="18.5"/>
<line x1="892.5" x2="919.3" y1="302.8" y2="302.8"/>
</g>
<text class="leg" transform="translate(933.6,312.4) scale(1,1.03)">CE</text>
<g stroke="#333333" stroke-width="1.6" fill="#EED5B7">
<rect x="889.6" y="321.3" width="32.0" height="33.8"/>
<line x1="905.9" x2="905.9" y1="323.8" y2="329.5"/><line x1="905.9" x2="905.9" y1="347.7" y2="352.7"/>
<rect x="892.5" y="329.4" width="26.8" height="18.5"/>
<line x1="892.5" x2="919.3" y1="338.4" y2="338.4"/>
</g>
<text class="leg" transform="translate(933.6,348.0) scale(1,1.03)">CM</text>
<g stroke="#333333" stroke-width="1.6" fill="#EED5B7">
<rect x="889.6" y="358.8" width="32.0" height="31.6"/>
<line x1="905.9" x2="905.9" y1="359.4" y2="365.1"/><line x1="905.9" x2="905.9" y1="383.3" y2="388.3"/>
<rect x="892.5" y="365.0" width="26.8" height="18.5"/>
<line x1="892.5" x2="919.3" y1="374.0" y2="374.0"/>
</g>
<text class="leg" transform="translate(933.6,383.6) scale(1,1.03)">FR</text>
<g stroke="#333333" stroke-width="1.6" fill="#EED5B7">
<rect x="889.6" y="394.6" width="32.0" height="31.1"/>
<line x1="905.9" x2="905.9" y1="395.0" y2="400.7"/><line x1="905.9" x2="905.9" y1="418.9" y2="423.9"/>
<rect x="892.5" y="400.6" width="26.8" height="18.5"/>
<line x1="892.5" x2="919.3" y1="409.6" y2="409.6"/>
</g>
<text class="leg" transform="translate(933.6,419.2) scale(1,1.03)">GN</text>
<g stroke="#333333" stroke-width="1.6" fill="#EE7621">
<rect x="889.6" y="430.4" width="32.0" height="30.6"/>
<line x1="905.9" x2="905.9" y1="430.6" y2="436.3"/><line x1="905.9" x2="905.9" y1="454.5" y2="459.5"/>
<rect x="892.5" y="436.2" width="26.8" height="18.5"/>
<line x1="892.5" x2="919.3" y1="445.2" y2="445.2"/>
</g>
<text class="leg" transform="translate(933.6,454.8) scale(1,1.03)">MC</text>
<g stroke="#333333" stroke-width="1.6" fill="#EED5B7">
<rect x="889.6" y="465.7" width="32.0" height="31.3"/>
<line x1="905.9" x2="905.9" y1="466.2" y2="471.9"/><line x1="905.9" x2="905.9" y1="490.1" y2="495.1"/>
<rect x="892.5" y="471.8" width="26.8" height="18.5"/>
<line x1="892.5" x2="919.3" y1="480.8" y2="480.8"/>
</g>
<text class="leg" transform="translate(933.6,490.4) scale(1,1.03)">OC</text>
<g stroke="#333333" stroke-width="1.6" fill="#EE7621">
<rect x="889.6" y="501.2" width="32.0" height="31.1"/>
<line x1="905.9" x2="905.9" y1="501.8" y2="507.5"/><line x1="905.9" x2="905.9" y1="525.7" y2="530.7"/>
<rect x="892.5" y="507.4" width="26.8" height="18.5"/>
<line x1="892.5" x2="919.3" y1="516.4" y2="516.4"/>
</g>
<text class="leg" transform="translate(933.6,526.0) scale(1,1.03)">PA</text>
<g stroke="#333333" stroke-width="1.6" fill="#EED5B7">
<rect x="889.6" y="537.0" width="32.0" height="30.9"/>
<line x1="905.9" x2="905.9" y1="537.4" y2="543.1"/><line x1="905.9" x2="905.9" y1="561.3" y2="566.3"/>
<rect x="892.5" y="543.0" width="26.8" height="18.5"/>
<line x1="892.5" x2="919.3" y1="552.0" y2="552.0"/>
</g>
<text class="leg" transform="translate(933.6,561.6) scale(1,1.03)">PB</text>
<g stroke="#333333" stroke-width="1.6" fill="#EED5B7">
<rect x="889.6" y="572.3" width="32.0" height="31.3"/>
<line x1="905.9" x2="905.9" y1="573.0" y2="578.7"/><line x1="905.9" x2="905.9" y1="596.9" y2="601.9"/>
<rect x="892.5" y="578.6" width="26.8" height="18.5"/>
<line x1="892.5" x2="919.3" y1="587.6" y2="587.6"/>
</g>
<text class="leg" transform="translate(933.6,597.2) scale(1,1.03)">SS</text>
<g stroke="#333333" stroke-width="1.6" fill="#EED5B7">
<rect x="889.6" y="608.2" width="32.0" height="31.2"/>
<line x1="905.9" x2="905.9" y1="608.6" y2="614.3"/><line x1="905.9" x2="905.9" y1="632.5" y2="637.5"/>
<rect x="892.5" y="614.2" width="26.8" height="18.5"/>
<line x1="892.5" x2="919.3" y1="623.2" y2="623.2"/>
</g>
<text class="leg" transform="translate(933.6,632.8) scale(1,1.03)">TC</text>
</svg></body></html>
